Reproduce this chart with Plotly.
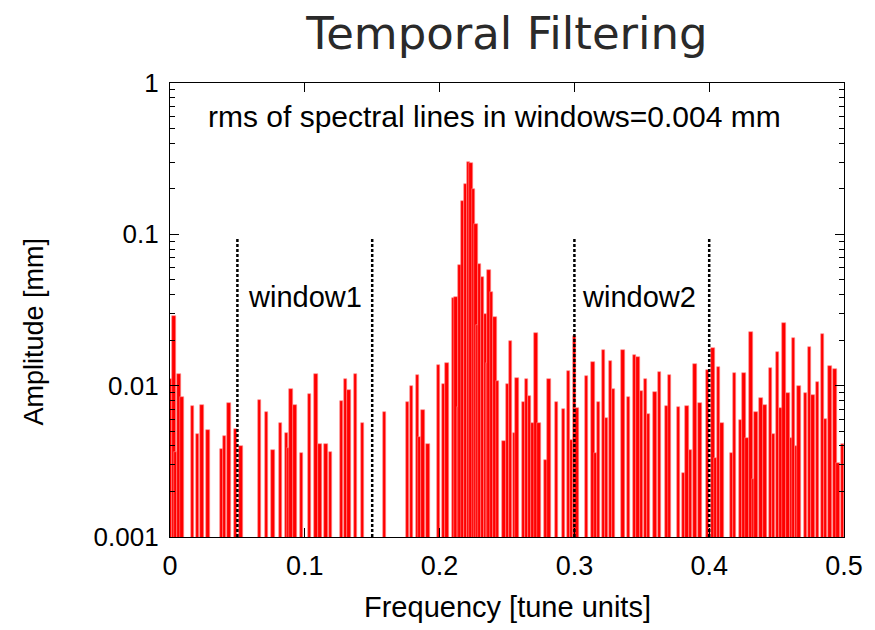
import plotly.graph_objects as go

# Spectral lines: frequency [tune units], amplitude [mm]
freq = [0.0006, 0.0029, 0.0042, 0.0066, 0.0090, 0.0169, 0.0203, 0.0237, 0.0281,
        0.0384, 0.0403, 0.0438, 0.0487, 0.0526, 0.0665, 0.0716, 0.0765,
        0.0819, 0.0863, 0.0877, 0.0897, 0.0927, 0.0976, 0.1034, 0.1083, 0.1113,
        0.1157, 0.1191, 0.1274, 0.1303, 0.1328, 0.1377, 0.1430, 0.1592,
        0.1760, 0.1792, 0.1834, 0.1851, 0.1878, 0.1914, 0.1993, 0.2027, 0.2054,
        0.2103, 0.2122, 0.2142, 0.2151, 0.2171, 0.2191, 0.2213, 0.2232, 0.2250,
        0.2270, 0.2285, 0.2298, 0.2318, 0.2340, 0.2355, 0.2367, 0.2387, 0.2411,
        0.2430, 0.2477, 0.2506, 0.2526, 0.2555, 0.2574, 0.2624, 0.2646, 0.2667,
        0.2692, 0.2714, 0.2736, 0.2789, 0.2811, 0.2866, 0.2919, 0.2958, 0.2980,
        0.3000, 0.3020, 0.3088, 0.3139, 0.3158, 0.3181, 0.3218, 0.3237, 0.3266,
        0.3288, 0.3361, 0.3401, 0.3447, 0.3472, 0.3496, 0.3526, 0.3552, 0.3599,
        0.3631, 0.3687, 0.3706, 0.3770, 0.3809, 0.3834, 0.3860, 0.3895, 0.3931,
        0.3988, 0.4027, 0.4045, 0.4068, 0.4095, 0.4164, 0.4186, 0.4230, 0.4259,
        0.4281, 0.4311, 0.4330, 0.4347, 0.4384, 0.4415, 0.4457, 0.4479, 0.4508,
        0.4533, 0.4555, 0.4584, 0.4610, 0.4626, 0.4647, 0.4667, 0.4714, 0.4743,
        0.4770, 0.4802, 0.4841, 0.4865, 0.4897, 0.4934, 0.4956, 0.4990]
amp = [0.0111, 0.0290, 0.00366, 0.0119, 0.00846, 0.00734, 0.0048, 0.00745, 0.0051,
       0.0038, 0.00467, 0.00772, 0.00517, 0.00399, 0.00803, 0.00667, 0.00376,
       0.00564, 0.00484, 0.0039, 0.00946, 0.00745, 0.00357, 0.00881, 0.0119, 0.00411,
       0.00411, 0.00364, 0.00796, 0.0110, 0.00937, 0.0120, 0.00569, 0.00673,
       0.00776, 0.00995, 0.0117, 0.0046, 0.00687, 0.00413, 0.0136, 0.0102, 0.0142,
       0.0382, 0.0388, 0.0072, 0.0629, 0.165, 0.216, 0.300, 0.296, 0.199,
       0.117, 0.0252, 0.0638, 0.0526, 0.0298, 0.0141, 0.0582, 0.0419, 0.0286,
       0.0107, 0.0043, 0.0102, 0.0198, 0.00484, 0.01125, 0.00776, 0.0111, 0.00855,
       0.00569, 0.0222, 0.0057, 0.00323, 0.0111, 0.00776, 0.00698, 0.0125, 0.00438,
       0.0213, 0.00709, 0.0115, 0.0144, 0.00357, 0.00776, 0.0172, 0.00614, 0.0146,
       0.00955, 0.0173, 0.00838, 0.0159, 0.0154, 0.00922, 0.0110, 0.0065, 0.00908,
       0.0124, 0.00734, 0.0118, 0.00723, 0.00265, 0.00734, 0.00376, 0.0140, 0.00772,
       0.0127, 0.0177, 0.00334, 0.0133, 0.00569, 0.00357, 0.0121, 0.00593, 0.0121,
       0.00453, 0.0225, 0.00241, 0.0067, 0.0083, 0.00745, 0.0130, 0.00477, 0.0167,
       0.00716, 0.0261, 0.00891, 0.00453, 0.0206, 0.00401, 0.0100, 0.00895, 0.0179,
       0.00868, 0.0106, 0.0218, 0.00603, 0.0134, 0.0129, 0.00307, 0.00411]

window_edges = [0.05, 0.15, 0.30, 0.40]
window_top = 0.095
x_ticks = [0, 0.1, 0.2, 0.3, 0.4, 0.5]
x_tick_text = ["0", "0.1", "0.2", "0.3", "0.4", "0.5"]
y_ticks = [0.001, 0.01, 0.1, 1]
y_tick_text = ["0.001", "0.01", "0.1", "1"]
y_minor = [m * 10 ** e for e in (-3, -2, -1) for m in range(2, 10)]

FONT = "Liberation Sans, Arial, sans-serif"
TXT = 29

fig = go.Figure()
fig.add_trace(go.Bar(
    x=freq, y=amp, width=0.0025,
    marker=dict(color="#ff0000", line=dict(color="#ff8c8c", width=0.6)),
    showlegend=False,
))

lx, ly = [], []
for w in window_edges:
    lx += [w, w, None]
    ly += [0.001, window_top, None]
fig.add_trace(go.Scatter(
    x=lx, y=ly, mode="lines", showlegend=False,
    line=dict(color="black", width=2.5, dash="3px,2px"),
))

axis_common = dict(
    showline=True, linecolor="black", linewidth=1.2, mirror="allticks",
    ticks="inside", ticklen=9, tickwidth=1.2, tickcolor="black",
    showgrid=False, zeroline=False,
)

fig.update_layout(
    width=875, height=630,
    margin=dict(l=170, r=23, t=83, b=93),
    paper_bgcolor="white", plot_bgcolor="white",
    barmode="overlay", bargap=0,
    title=dict(text="Temporal Filtering", x=0.5, xref="paper", xanchor="center",
               y=1 - 33 / 630, yref="container", yanchor="middle",
               font=dict(family="DejaVu Sans, sans-serif", size=45, color="#2a2a2a")),
    xaxis=dict(range=[0, 0.5], tickvals=x_ticks, ticktext=x_tick_text,
               ticklabelstandoff=4,
               tickfont=dict(family=FONT, size=27, color="black"), **axis_common),
    yaxis=dict(type="log", range=[-3, 0], tickvals=y_ticks, ticktext=y_tick_text,
               ticklabelstandoff=5,
               tickfont=dict(family=FONT, size=26, color="black"),
               minor=dict(tickvals=y_minor, ticks="inside", ticklen=5,
                          tickcolor="black", tickwidth=1),
               **axis_common),
    annotations=[
        dict(text="rms of spectral lines in windows=0.004 mm", x=0.2405, y=-0.223,
             xref="x", yref="y", showarrow=False, xanchor="center", yanchor="middle",
             font=dict(family=FONT, size=30, color="black")),
        dict(text="window1", x=0.1, y=-1.413, xref="x", yref="y", showarrow=False,
             xanchor="center", yanchor="middle",
             font=dict(family=FONT, size=TXT, color="black")),
        dict(text="window2", x=0.348, y=-1.413, xref="x", yref="y", showarrow=False,
             xanchor="center", yanchor="middle",
             font=dict(family=FONT, size=TXT, color="black")),
        dict(text="Frequency [tune units]", x=0.5, y=(537 - 607) / 454,
             xref="paper", yref="paper", showarrow=False,
             xanchor="center", yanchor="middle",
             font=dict(family=FONT, size=TXT, color="black")),
        dict(text="Amplitude [mm]", x=(32 - 170) / 682, y=(537 - 332) / 454,
             xref="paper", yref="paper", showarrow=False, textangle=-90,
             xanchor="center", yanchor="middle",
             font=dict(family=FONT, size=27, color="black")),
    ],
)

fig.write_html("out.html")
